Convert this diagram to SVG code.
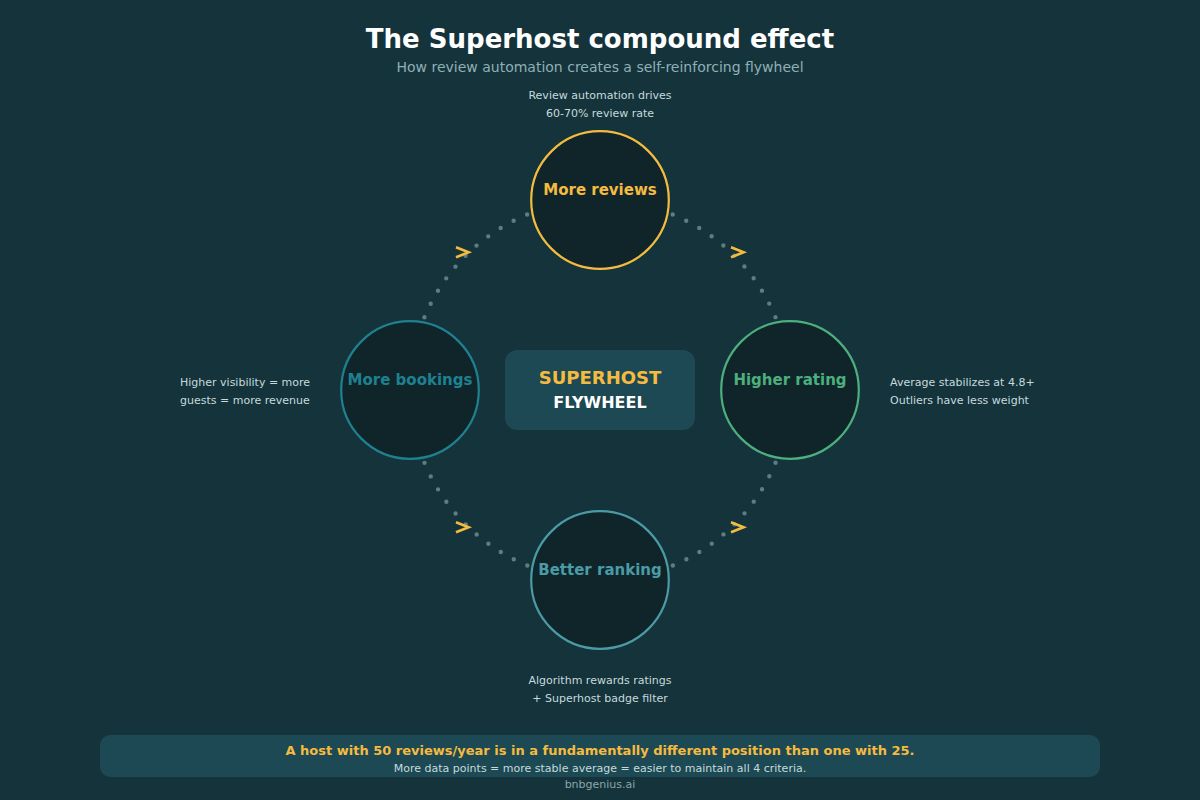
<svg xmlns="http://www.w3.org/2000/svg" width="1200" height="800" viewBox="0 0 1200 800">
  <defs>
    <style>
      text { font-family: "DejaVu Sans", "Liberation Sans", sans-serif; }
      .title { font-size: 26px; font-weight: bold; fill: #ffffff; }
      .sub { font-size: 14px; fill: #8fb0b5; }
      .note { font-size: 11px; fill: #c6dadd; }
      .node { fill: #0f252a; stroke-width: 2.2; }
      .lbl { font-size: 15px; font-weight: bold; text-anchor: middle; }
      .arc { fill: none; stroke: #5b7d83; stroke-width: 4.4; stroke-linecap: round; stroke-dasharray: 0 14.9; }
      .chev { fill: none; stroke: #f5bb41; stroke-width: 2.6; stroke-linejoin: miter; }
    </style>
    <path id="chev" class="chev" d="M-6.3,-5 L6.3,0 L-6.3,5"/>
  </defs>

  <rect x="0" y="0" width="1200" height="800" fill="#15333b"/>

  <g id="header">
    <text class="title" x="600" y="48" text-anchor="middle">The Superhost compound effect</text>
    <text class="sub" x="600" y="72" text-anchor="middle">How review automation creates a self-reinforcing flywheel</text>
  </g>

  <g id="connectors">
    <path class="arc" d="M672.71,214.46 A190,190 0 0 1 775.54,317.29"/>
    <path class="arc" d="M775.54,462.71 A190,190 0 0 1 672.71,565.54"/>
    <path class="arc" d="M527.29,565.54 A190,190 0 0 1 424.46,462.71"/>
    <path class="arc" d="M424.46,317.29 A190,190 0 0 1 527.29,214.46"/>
    <use href="#chev" transform="translate(737.3,252.3)"/>
    <use href="#chev" transform="translate(462.3,252.3)"/>
    <use href="#chev" transform="translate(462.3,527.3)"/>
    <use href="#chev" transform="translate(737.3,527.3)"/>
  </g>

  <g id="node-reviews">
    <circle class="node" cx="600" cy="200" r="68.8" stroke="#f5bb41"/>
    <text class="lbl" x="600" y="195" fill="#f5bb41">More reviews</text>
    <text class="note" x="600" y="99" text-anchor="middle">Review automation drives</text>
    <text class="note" x="600" y="117" text-anchor="middle">60-70% review rate</text>
  </g>

  <g id="node-rating">
    <circle class="node" cx="790" cy="390" r="68.8" stroke="#4caf7d"/>
    <text class="lbl" x="790" y="385" fill="#4caf7d">Higher rating</text>
    <text class="note" x="890" y="386">Average stabilizes at 4.8+</text>
    <text class="note" x="890" y="404">Outliers have less weight</text>
  </g>

  <g id="node-ranking">
    <circle class="node" cx="600" cy="580" r="68.8" stroke="#4a9ba6"/>
    <text class="lbl" x="600" y="575" fill="#4a9ba6">Better ranking</text>
    <text class="note" x="600" y="684" text-anchor="middle">Algorithm rewards ratings</text>
    <text class="note" x="600" y="702" text-anchor="middle">+ Superhost badge filter</text>
  </g>

  <g id="node-bookings">
    <circle class="node" cx="410" cy="390" r="68.8" stroke="#1f8190"/>
    <text class="lbl" x="410" y="385" fill="#1f8190">More bookings</text>
    <text class="note" x="180" y="386">Higher visibility = more</text>
    <text class="note" x="180" y="404">guests = more revenue</text>
  </g>

  <g id="center">
    <rect x="505" y="350" width="190" height="80" rx="12" fill="#1c4953"/>
    <text x="600" y="384" text-anchor="middle" font-size="18" font-weight="bold" fill="#f5bb41">SUPERHOST</text>
    <text x="600" y="408" text-anchor="middle" font-size="16" font-weight="bold" fill="#ffffff">FLYWHEEL</text>
  </g>

  <g id="footer">
    <rect x="100" y="735" width="1000" height="42" rx="10" fill="#1c4953"/>
    <text x="600" y="755" text-anchor="middle" font-size="13" font-weight="bold" fill="#f5bb41">A host with 50 reviews/year is in a fundamentally different position than one with 25.</text>
    <text class="note" x="600" y="772" text-anchor="middle">More data points = more stable average = easier to maintain all 4 criteria.</text>
    <text x="600" y="788" text-anchor="middle" font-size="11" fill="#8aa6ab">bnbgenius.ai</text>
  </g>
</svg>
